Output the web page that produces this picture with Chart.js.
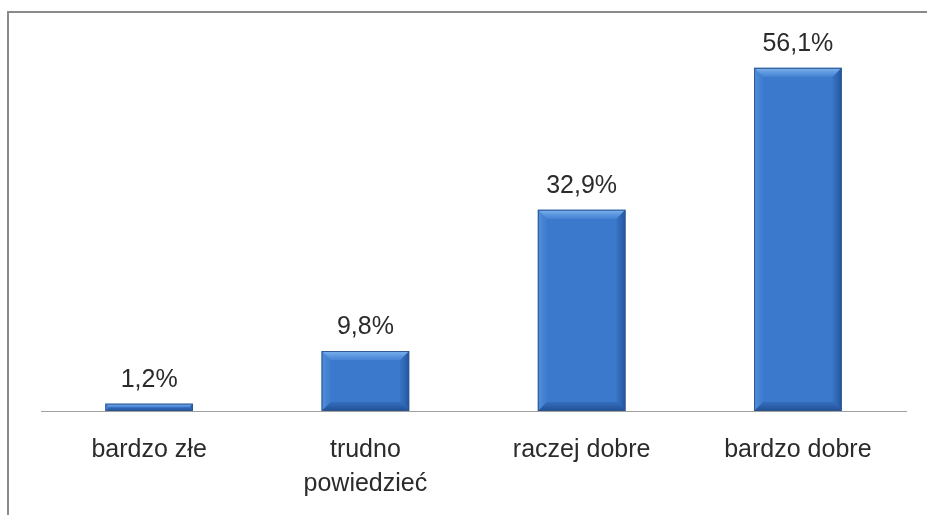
<!DOCTYPE html>
<html>
<head>
<meta charset="utf-8">
<script src="https://cdn.jsdelivr.net/npm/chart.js@4/dist/chart.umd.min.js"></script>
<style>
    html, body { margin: 0; padding: 0; background: #fff; }
    #wrap { position: relative; width: 927px; height: 515px; }
    #frame {
        position: absolute; left: 7px; top: 11px; width: 940px; height: 520px;
        border-top: 2px solid #8a8a8a; border-left: 2px solid #8a8a8a;
        pointer-events: none;
    }
</style>
</head>
<body>
<div id="wrap">
    <canvas id="barChart" width="927" height="515"></canvas>
    <div id="frame"></div>
</div>
<script>
// ==================== DATA ====================
const categories = ['bardzo złe', ['trudno', 'powiedzieć'], 'raczej dobre', 'bardzo dobre'];
const percentValues = [1.2, 9.8, 32.9, 56.1];
const valueLabels = ['1,2%', '9,8%', '32,9%', '56,1%'];

const FONT = '"Liberation Sans", Arial, sans-serif';

// Bevel look like the office chart style
const bevelPlugin = {
    id: 'bevel',
    afterDatasetsDraw(chart) {
        const ctx = chart.ctx;
        chart.getDatasetMeta(0).data.forEach(bar => {
            const p = bar.getProps(['x', 'y', 'base', 'width'], true);
            const l = p.x - p.width / 2, r = p.x + p.width / 2;
            const t = p.y, b = p.base;
            const s = Math.min(9, (b - t) / 2, p.width / 2);
            ctx.save();
            const poly = (pts, color) => {
                ctx.beginPath();
                ctx.moveTo(pts[0][0], pts[0][1]);
                pts.slice(1).forEach(pt => ctx.lineTo(pt[0], pt[1]));
                ctx.closePath();
                ctx.fillStyle = color;
                ctx.fill();
            };
            // top edge: light highlight fading inward
            let g = ctx.createLinearGradient(0, t, 0, t + s);
            g.addColorStop(0, 'rgba(140, 190, 245, 0.9)');
            g.addColorStop(1, 'rgba(90, 150, 225, 0.4)');
            poly([[l, t], [r, t], [r - s, t + s], [l + s, t + s]], g);
            // bottom edge: darker
            g = ctx.createLinearGradient(0, b, 0, b - s);
            g.addColorStop(0, 'rgba(25, 65, 130, 0.8)');
            g.addColorStop(1, 'rgba(40, 90, 165, 0.4)');
            poly([[l, b], [r, b], [r - s, b - s], [l + s, b - s]], g);
            // left edge
            g = ctx.createLinearGradient(l, 0, l + s, 0);
            g.addColorStop(0, 'rgba(100, 160, 230, 0.6)');
            g.addColorStop(1, 'rgba(80, 140, 215, 0.2)');
            poly([[l, t], [l + s, t + s], [l + s, b - s], [l, b]], g);
            // right edge
            g = ctx.createLinearGradient(r, 0, r - s, 0);
            g.addColorStop(0, 'rgba(25, 70, 140, 0.75)');
            g.addColorStop(1, 'rgba(40, 95, 170, 0.25)');
            poly([[r, t], [r - s, t + s], [r - s, b - s], [r, b]], g);
            ctx.strokeStyle = '#2d5690';
            ctx.lineWidth = 1;
            ctx.strokeRect(l + 0.5, t + 0.5, p.width - 1, b - t - 1);
            ctx.restore();
        });
    }
};

// Value labels above the bars
const valueLabelPlugin = {
    id: 'valueLabels',
    afterDatasetsDraw(chart) {
        const ctx = chart.ctx;
        ctx.save();
        ctx.font = '25px ' + FONT;
        ctx.fillStyle = '#2b2b2b';
        ctx.textAlign = 'center';
        ctx.textBaseline = 'alphabetic';
        chart.getDatasetMeta(0).data.forEach((bar, i) => {
            ctx.fillText(valueLabels[i], bar.x, bar.y - 17);
        });
        ctx.restore();
    }
};

const ctx = document.getElementById('barChart').getContext('2d');
new Chart(ctx, {
    type: 'bar',
    data: {
        labels: categories,
        datasets: [{
            data: percentValues,
            backgroundColor: '#3b79cc',
            borderWidth: 0,
            categoryPercentage: 1,
            barPercentage: 0.405
        }]
    },
    options: {
        responsive: false,
        animation: false,
        layout: { padding: { top: 44, left: 41, right: 21, bottom: 0 } },
        plugins: { legend: { display: false }, tooltip: { enabled: false } },
        scales: {
            x: {
                grid: { display: false, drawTicks: false },
                border: { display: true, color: '#a0a0a0', width: 1 },
                ticks: {
                    padding: 22,
                    color: '#2b2b2b',
                    maxRotation: 0,
                    font: { family: FONT, size: 25, lineHeight: 1.36 }
                },
                afterFit(scale) { scale.height = 104; }
            },
            y: {
                display: false,
                min: 0,
                max: 60
            }
        }
    },
    plugins: [bevelPlugin, valueLabelPlugin]
});
</script>
</body>
</html>
